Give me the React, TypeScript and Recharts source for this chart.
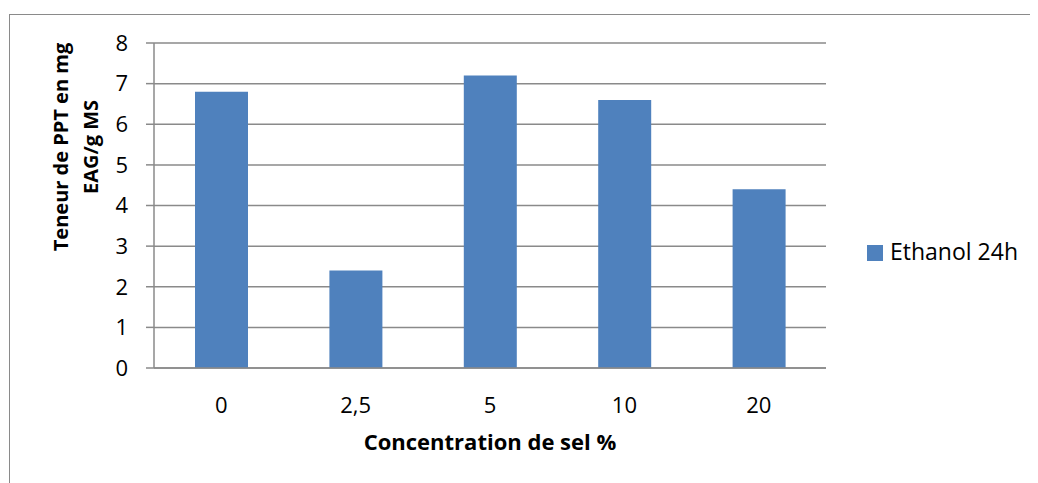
import React from 'react';
import { BarChart, Bar, XAxis, YAxis, CartesianGrid, Customized } from 'recharts';

const categories = ['0', '2,5', '5', '10', '20'];
const ethanol24h = [6.8, 2.4, 7.2, 6.6, 4.4];
const yTicks = [0, 1, 2, 3, 4, 5, 6, 7, 8];
const seriesName = 'Ethanol 24h';
const xTitle = 'Concentration de sel %';
const yTitle1 = 'Teneur de PPT en mg';
const yTitle2 = 'EAG/g MS';

const data = categories.map((c, i) => ({ cat: c, v: ethanol24h[i] }));

const FONT = '"Open Sans", sans-serif';
const GRAY = '#8a8a8a';
const BLUE = '#4F81BD';

const LegendMark = () => (
  <g>
    <rect x={859} y={237} width={16} height={16} fill={BLUE} />
    <text x={882} y={252} fontFamily={FONT} fontSize={23} fill="#000">{seriesName}</text>
  </g>
);

export default function App() {
  return (
    <div style={{ position: 'relative', width: 1030, height: 475, overflow: 'hidden', background: '#fff' }}>
      <div
        style={{
          position: 'absolute',
          left: 1,
          top: 6,
          width: 1026,
          height: 520,
          border: `1.5px solid ${GRAY}`,
          boxSizing: 'border-box',
        }}
      />
      <div style={{ position: 'absolute', left: 0, top: 0 }}>
        <BarChart
          width={1030}
          height={475}
          data={data}
          margin={{ top: 35, right: 212, bottom: 55, left: 0 }}
          barSize={53}
        >
          <CartesianGrid horizontal vertical={false} stroke={GRAY} strokeWidth={1.5} />
          <XAxis
            dataKey="cat"
            height={60}
            tickLine={false}
            tickSize={0}
            tickMargin={29}
            axisLine={{ stroke: GRAY, strokeWidth: 1.5 }}
            tick={{ fontFamily: FONT, fontSize: 22, fill: '#000' }}
            label={{
              content: () => (
                <text x={482} y={442} textAnchor="middle" fontFamily={FONT} fontSize={22} fontWeight="bold" fill="#000">
                  {xTitle}
                </text>
              ),
            }}
          />
          <YAxis
            width={146}
            domain={[0, 8]}
            ticks={yTicks}
            interval={0}
            tickSize={8}
            tickMargin={18}
            tickLine={{ stroke: GRAY, strokeWidth: 1.5 }}
            axisLine={{ stroke: GRAY, strokeWidth: 1.5 }}
            tick={{ fontFamily: FONT, fontSize: 22, fill: '#000' }}
            label={{
              content: () => (
                <g>
                  <text x={60} y={139} transform="rotate(-90 60 139)" textAnchor="middle" fontFamily={FONT} fontSize={20} fontWeight="bold" fill="#000">
                    {yTitle1}
                  </text>
                  <text x={90} y={139} transform="rotate(-90 90 139)" textAnchor="middle" fontFamily={FONT} fontSize={20} fontWeight="bold" fill="#000">
                    {yTitle2}
                  </text>
                </g>
              ),
            }}
          />
          <Bar dataKey="v" name={seriesName} fill={BLUE} isAnimationActive={false} />
          <Customized component={LegendMark} />
        </BarChart>
      </div>
    </div>
  );
}
